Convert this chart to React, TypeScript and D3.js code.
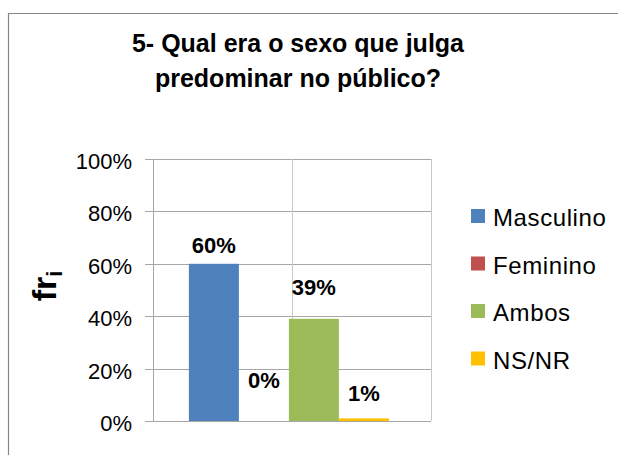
import React from "react";
import * as d3 from "d3";

const titleLines = ["5- Qual era o sexo que julga", "predominar no público?"];
const categories = [""];
const seriesNames = ["Masculino", "Feminino", "Ambos", "NS/NR"];
const seriesValues = [0.6, 0.0, 0.39, 0.01];
const valueLabels = ["60%", "0%", "39%", "1%"];
const yTicks = [0, 0.2, 0.4, 0.6, 0.8, 1.0];
const colors = ["#4F81BD", "#C0504D", "#9BBB59", "#FFC000"];
// label placement relative to bar top (px above), as in the original manual layout
const labelLift = [11, 33, 24, 17];

export default function App() {
  const W = 618;
  const H = 455;
  const plot = { left: 153, right: 431, top: 159, bottom: 421 };

  const y = d3.scaleLinear().domain([0, 1]).range([plot.bottom, plot.top]);
  const x0 = d3
    .scaleBand<string>()
    .domain(categories)
    .range([plot.left, plot.right])
    .paddingOuter(0.195)
    .paddingInner(0)
    .align(0.46);
  const x1 = d3
    .scaleBand<string>()
    .domain(seriesNames)
    .range([0, x0.bandwidth()])
    .padding(0);
  const fmt = d3.format(".0%");

  const font = "'Liberation Sans', Arial, sans-serif";
  const gridColor = "#A6A6A6";

  return (
    <svg
      width={W}
      height={H}
      style={{ position: "absolute", left: 0, top: 0, background: "#fff" }}
      fontFamily={font}
    >
      <rect x={0} y={0} width={W} height={H} fill="#fff" />
      {/* chart area border */}
      <path d={`M8.5,${H} V13.5 H${W}`} fill="none" stroke="#868686" strokeWidth={1.2} />

      {/* title */}
      {titleLines.map((t, i) => (
        <text
          key={i}
          x={298}
          y={52 + i * 35}
          textAnchor="middle"
          fontSize={25}
          fontWeight="bold"
          fill="#000"
        >
          {t}
        </text>
      ))}

      {/* horizontal gridlines + ticks */}
      {yTicks.map((t) => (
        <g key={t}>
          <line
            x1={plot.left - 8}
            x2={plot.right}
            y1={Math.round(y(t)) + 0.5}
            y2={Math.round(y(t)) + 0.5}
            stroke={gridColor}
            strokeWidth={1}
          />
          <text
            x={132}
            y={y(t) + 10}
            textAnchor="end"
            fontSize={22}
            fill="#000"
          >
            {fmt(t)}
          </text>
        </g>
      ))}
      {/* vertical gridlines */}
      {[plot.left, (plot.left + plot.right) / 2, plot.right].map((vx, i) => (
        <line
          key={i}
          x1={Math.round(vx) + 0.5}
          x2={Math.round(vx) + 0.5}
          y1={plot.top}
          y2={plot.bottom}
          stroke={i === 0 ? gridColor : "#C8C8C8"}
          strokeWidth={1}
        />
      ))}

      {/* bars */}
      {categories.map((c) => (
        <g key={c} transform={`translate(${x0(c)},0)`}>
          {seriesNames.map((s, i) => (
            <g key={s}>
              <rect
                x={x1(s)}
                y={y(seriesValues[i])}
                width={x1.bandwidth()}
                height={plot.bottom - y(seriesValues[i])}
                fill={colors[i]}
              />
              <text
                x={(x1(s) as number) + x1.bandwidth() / 2}
                y={y(seriesValues[i]) - labelLift[i]}
                textAnchor="middle"
                fontSize={22}
                fontWeight="bold"
                fill="#000"
              >
                {valueLabels[i]}
              </text>
            </g>
          ))}
        </g>
      ))}

      {/* axis title */}
      <text
        transform={`translate(56,286) rotate(-90)`}
        textAnchor="middle"
        fontSize={34}
        fontWeight="bold"
        fill="#000"
      >
        fr
        <tspan fontSize={22} dy={6}>i</tspan>
      </text>

      {/* legend */}
      {seriesNames.map((s, i) => (
        <g key={s} transform={`translate(471,${209 + i * 47.5})`}>
          <rect x={0} y={0} width={14} height={14} fill={colors[i]} />
          <text x={22} y={17} fontSize={24} letterSpacing={0.6} fill="#000">
            {s}
          </text>
        </g>
      ))}
    </svg>
  );
}
